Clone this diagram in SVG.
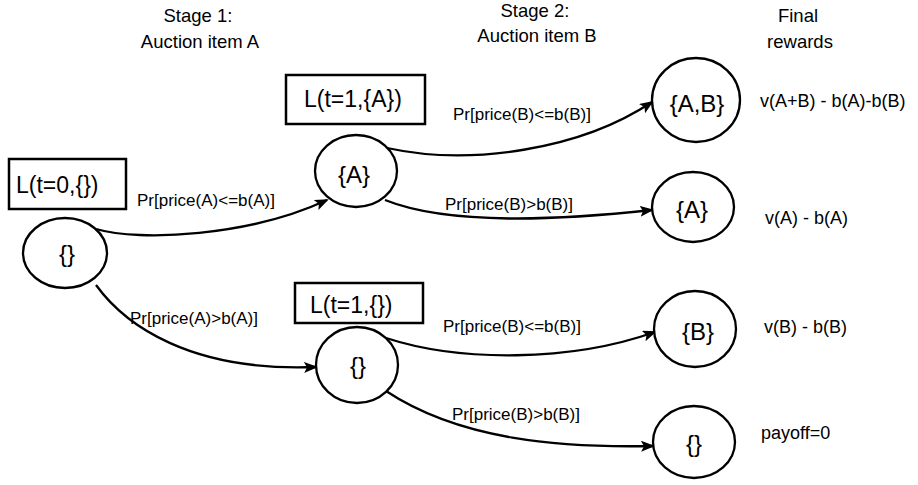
<svg xmlns="http://www.w3.org/2000/svg" width="918" height="485" viewBox="0 0 918 485">
<style>
text{font-family:"Liberation Sans",Arial,sans-serif;fill:#000}
.hdr{font-size:18.5px;text-anchor:middle}
.box{fill:#fff;stroke:#000;stroke-width:2.5}
.bt{font-size:23px}
.nd{fill:#fff;stroke:#000;stroke-width:2.3}
.nt{font-size:24px;text-anchor:middle}
.lb{font-size:17px}
.rw{font-size:18px}
.edge{fill:none;stroke:#000;stroke-width:2.3;marker-end:url(#ah)}
</style>
<defs>
<marker id="ah" markerUnits="userSpaceOnUse" markerWidth="15" markerHeight="12" refX="12" refY="5.5" orient="auto">
<path d="M0,0 L14,5.5 L0,11 L3,5.5 z" fill="#000"/>
</marker>
</defs>
<rect width="918" height="485" fill="#fff"/>
<g id="headers">
<text class="hdr" x="198" y="22">Stage 1:</text>
<text class="hdr" x="200" y="48">Auction item A</text>
<text class="hdr" x="535" y="17">Stage 2:</text>
<text class="hdr" x="537" y="42">Auction item B</text>
<text class="hdr" x="798" y="22">Final</text>
<text class="hdr" x="800" y="48">rewards</text>
</g>
<g id="connectors">
<path class="edge" d="M96,229 C140,242 250,236 327,200"/>
<path class="edge" d="M96,285 C125,325 190,372 316,367"/>
<path class="edge" d="M387,148 C470,166 580,150 652,102"/>
<path class="edge" d="M385,200 C450,226 560,220 652,210"/>
<path class="edge" d="M386,338 C460,362 570,362 655,332"/>
<path class="edge" d="M386,391 C460,440 560,448 653,446"/>
<text class="lb" x="137" y="206">Pr[price(A)&lt;=b(A)]</text>
<text class="lb" x="130" y="324">Pr[price(A)&gt;b(A)]</text>
<text class="lb" x="453" y="120">Pr[price(B)&lt;=b(B)]</text>
<text class="lb" x="445" y="210">Pr[price(B)&gt;b(B)]</text>
<text class="lb" x="443" y="332">Pr[price(B)&lt;=b(B)]</text>
<text class="lb" x="452" y="420">Pr[price(B)&gt;b(B)]</text>
</g>
<g id="box-t0">
<rect class="box" x="9" y="159" width="117" height="50"/>
<text class="bt" x="16" y="193">L(t=0,{})</text>
</g>
<g id="box-t1A">
<rect class="box" x="286" y="75" width="139" height="49"/>
<text class="bt" x="304" y="107">L(t=1,{A})</text>
</g>
<g id="box-t1e">
<rect class="box" x="295" y="283" width="128" height="40"/>
<text class="bt" x="310" y="313">L(t=1,{})</text>
</g>
<g id="n-root">
<ellipse class="nd" cx="65" cy="253" rx="42" ry="35"/>
<text class="nt" x="67" y="262">{}</text>
</g>
<g id="n-A">
<ellipse class="nd" cx="356" cy="171" rx="41" ry="36"/>
<text class="nt" x="354" y="183">{A}</text>
</g>
<g id="n-e">
<ellipse class="nd" cx="357" cy="365" rx="41" ry="38"/>
<text class="nt" x="358" y="374">{}</text>
</g>
<g id="n-AB">
<ellipse class="nd" cx="696" cy="100" rx="44" ry="42"/>
<text class="nt" x="697" y="112">{A,B}</text>
</g>
<g id="n-A2">
<ellipse class="nd" cx="693" cy="207" rx="41" ry="35"/>
<text class="nt" x="692" y="218">{A}</text>
</g>
<g id="n-B">
<ellipse class="nd" cx="695" cy="329" rx="41" ry="38"/>
<text class="nt" x="698" y="340">{B}</text>
</g>
<g id="n-e2">
<ellipse class="nd" cx="694" cy="442" rx="41" ry="36"/>
<text class="nt" x="694" y="452">{}</text>
</g>
<g id="rewards">
<text class="rw" x="760" y="107">v(A+B) - b(A)-b(B)</text>
<text class="rw" x="765" y="224">v(A) - b(A)</text>
<text class="rw" x="764" y="333">v(B) - b(B)</text>
<text class="rw" x="761" y="439">payoff=0</text>
</g>
</svg>
